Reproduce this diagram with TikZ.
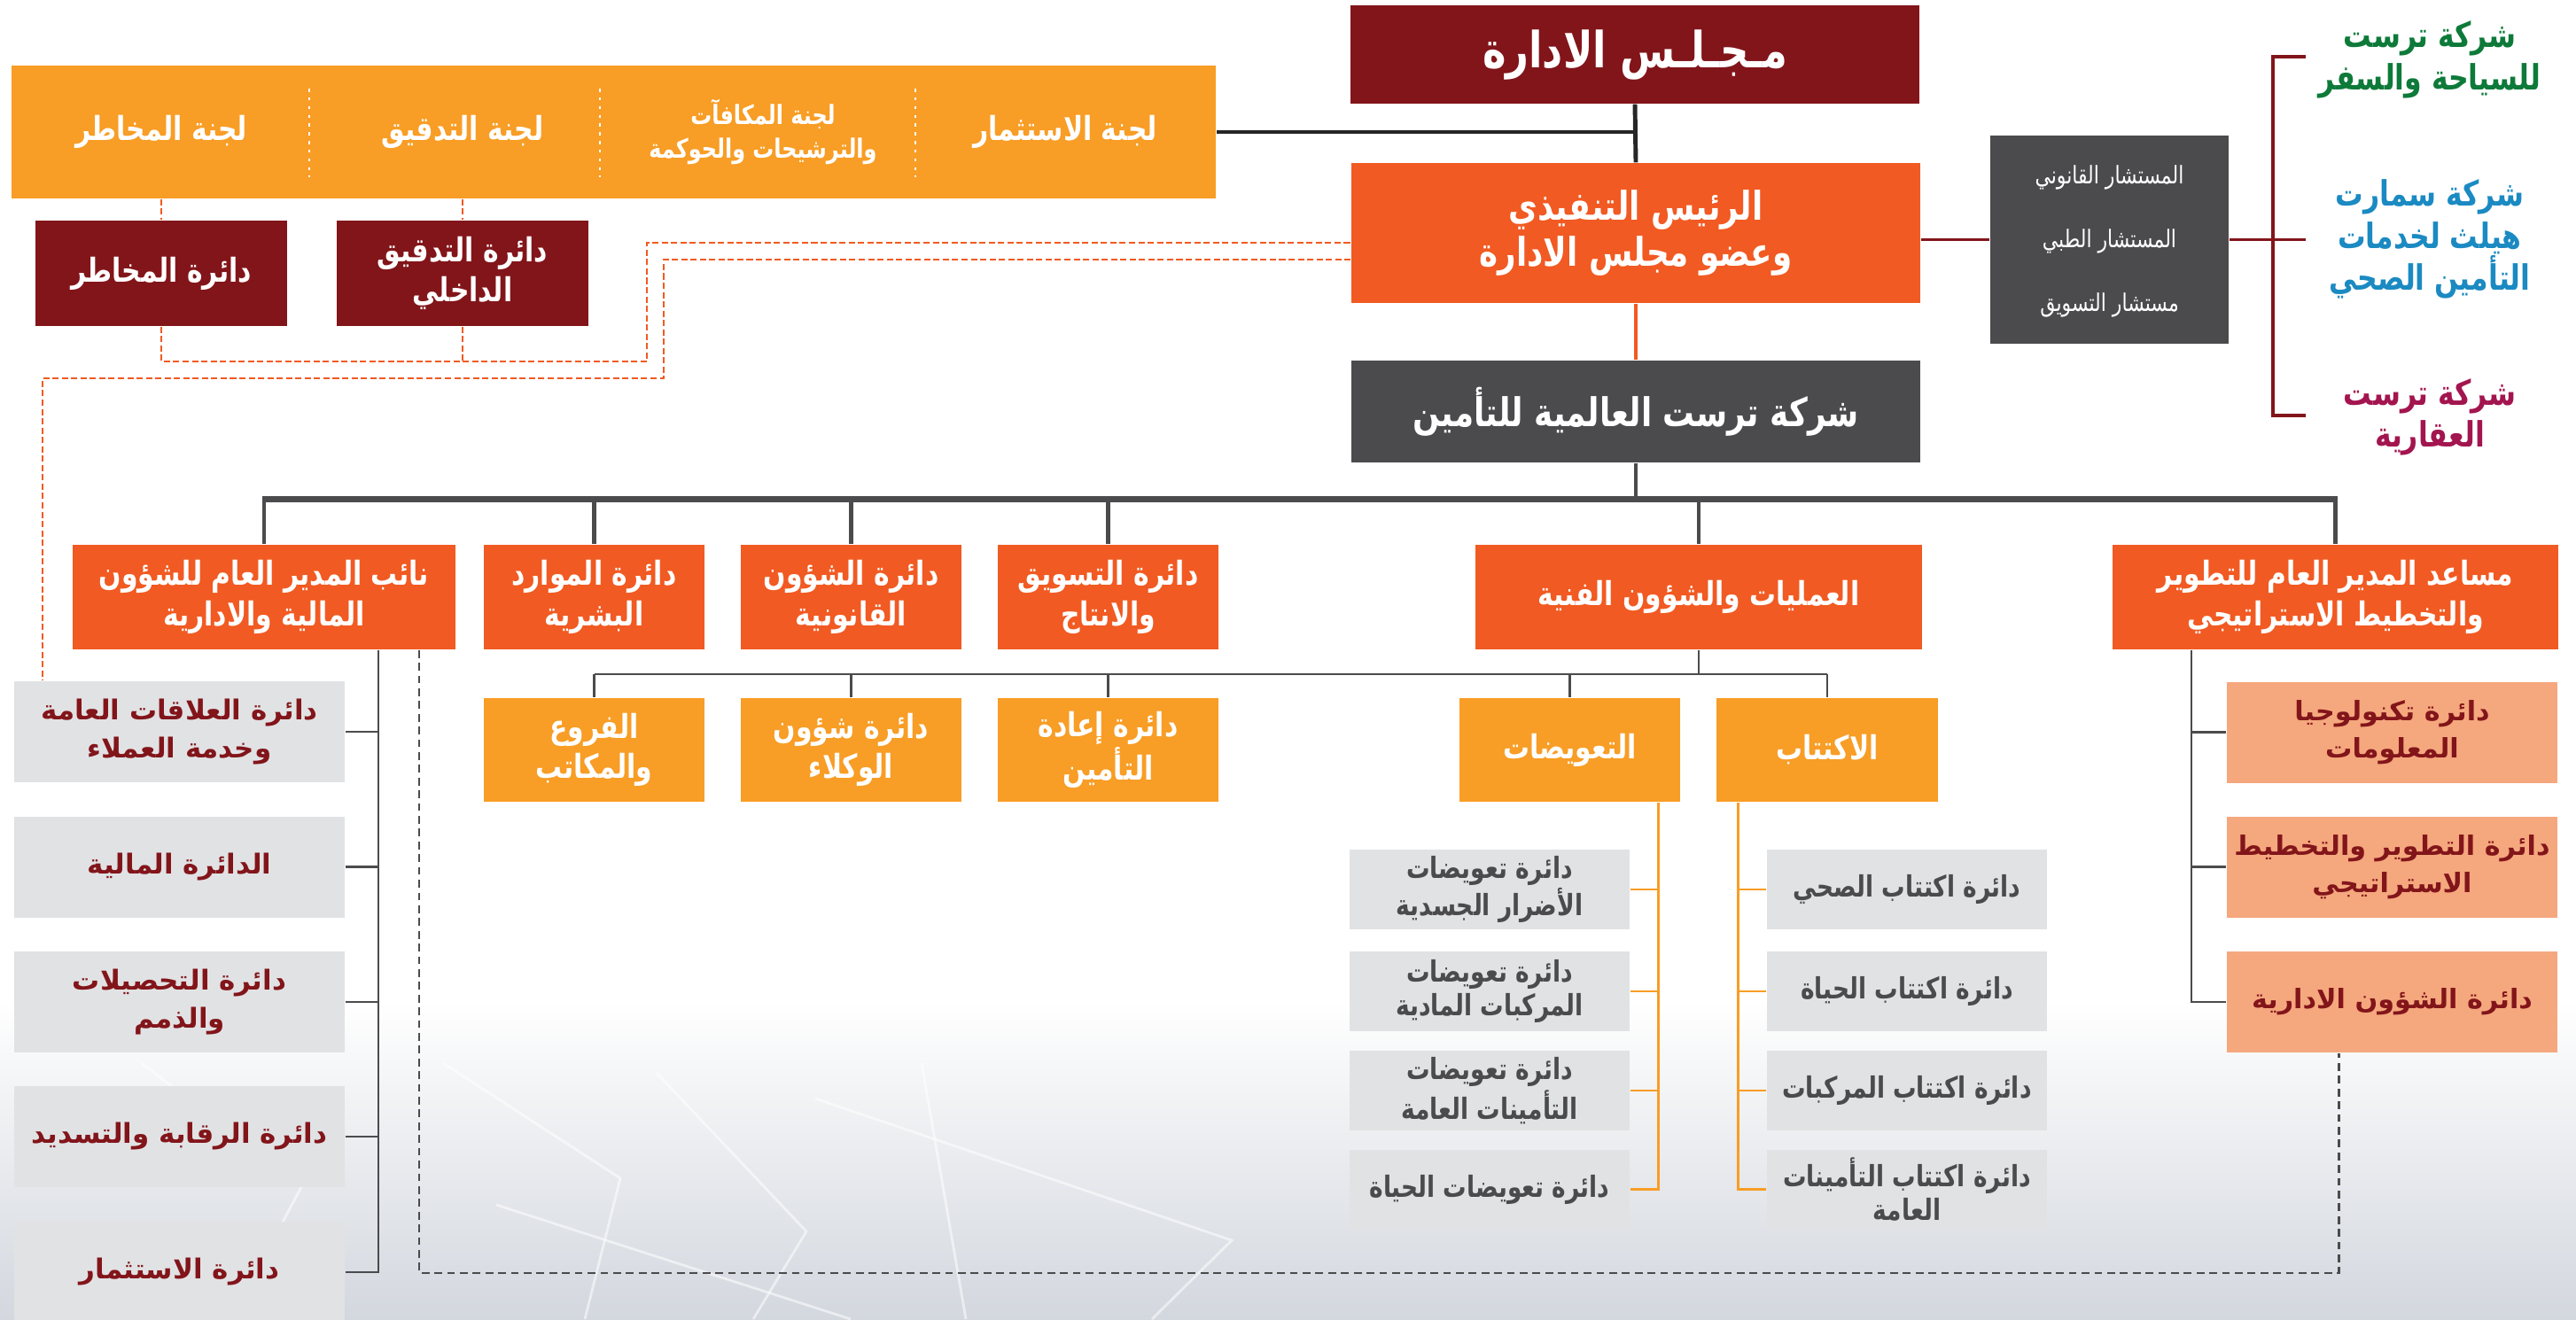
\documentclass[tikz,border=0pt]{standalone}
\usepackage{fontspec}
\usepackage{tikz}
\usetikzlibrary{calc}

\TeXXeTstate=1
\newfontfamily\arabicfont[Script=Arabic,FakeStretch=0.8]{DejaVu Sans}
\newfontfamily\arabicplain[Script=Arabic]{DejaVu Sans}
\newcommand{\ar}[1]{\beginR #1\endR}

\definecolor{boardred}{HTML}{82151A}
\definecolor{ceoorange}{HTML}{F15A22}
\definecolor{lightorange}{HTML}{F89D25}
\definecolor{trustgray}{HTML}{4B4B4D}
\definecolor{subgray}{HTML}{E1E2E4}
\definecolor{salmon}{HTML}{F5A77E}
\definecolor{travelgreen}{HTML}{0E7A3A}
\definecolor{healthblue}{HTML}{1B8AC2}
\definecolor{estatered}{HTML}{A3154F}
\definecolor{bggray}{HTML}{D3D7DE}

\tikzset{
  box/.style={rectangle,inner sep=0pt,align=center,text=white},
  redbox/.style={box,fill=boardred},
  headbox/.style={box,fill=ceoorange,minimum height=1.18cm,font=\arabicfont\bfseries\fontsize{10.6}{13}\selectfont},
  unitbox/.style={box,fill=lightorange,minimum width=2.49cm,minimum height=1.17cm,font=\arabicfont\bfseries\fontsize{10.6}{13}\selectfont},
  finbox/.style={box,fill=subgray,text=boardred,minimum width=3.73cm,minimum height=1.14cm,font=\arabicplain\bfseries\fontsize{8.8}{12}\selectfont},
  planbox/.style={finbox,fill=salmon,font=\arabicplain\bfseries\fontsize{8.6}{12}\selectfont},
  secbox/.style={box,fill=subgray,text=trustgray,minimum width=3.16cm,minimum height=0.90cm,font=\arabicfont\bfseries\fontsize{9.4}{11}\selectfont},
  comtext/.style={text=white,align=center,inner sep=0pt,font=\arabicfont\bfseries\fontsize{10.6}{13}\selectfont},
  advtext/.style={text=white,inner sep=0pt,font=\arabicfont\fontsize{7.8}{9}\selectfont},
  firm/.style={align=center,inner sep=0pt,font=\arabicfont\bfseries\fontsize{11.2}{13.5}\selectfont},
  boardline/.style={draw=black!85,line width=1.4pt},
  busline/.style={draw=trustgray,line width=1.4pt},
  thinline/.style={draw=trustgray,line width=0.8pt},
  orangeline/.style={draw=lightorange,line width=0.8pt},
  redline/.style={draw=boardred,line width=1.1pt},
  orangedash/.style={draw=ceoorange,line width=0.7pt,dash pattern=on 2pt off 1pt},
  greydash/.style={draw=trustgray,line width=0.7pt,dash pattern=on 2.5pt off 1.6pt},
  sepdots/.style={draw=white,line width=0.6pt,dash pattern=on 1pt off 1.8pt},
  decor/.style={draw=white,line width=0.8pt,opacity=0.55}
}

\begin{document}
\begin{tikzpicture}[x=1cm,y=-1cm]
\useasboundingbox (0,0) rectangle (29.07,14.89);
\shade[top color=white,bottom color=bggray] (0,11.3) rectangle (29.07,14.89);
\draw[decor] (5.0,12.0) -- (7.0,13.3) -- (6.6,14.89);
\draw[decor] (7.4,12.1) -- (9.1,13.9) -- (8.5,14.89);
\draw[decor] (9.2,12.4) -- (13.9,14.0) -- (13.0,14.89);
\draw[decor] (5.6,13.6) -- (9.6,14.89);
\draw[decor] (10.4,12.0) -- (10.9,14.89);
\draw[decor] (1.6,12.0) -- (3.4,13.4) -- (2.6,14.89);

% top of the tree
\node[redbox,minimum width=6.42cm,minimum height=1.11cm,font=\arabicfont\bfseries\fontsize{16}{18}\selectfont] (board) at (18.45,0.615) {\ar{مـجـلـس الادارة}};
\node[box,fill=ceoorange,minimum width=6.42cm,minimum height=1.58cm,font=\arabicfont\bfseries\fontsize{12.7}{15}\selectfont] (ceo) at (18.46,2.63) {\ar{الرئيس التنفيذي}\\\ar{وعضو مجلس الادارة}};
\node[box,fill=trustgray,minimum width=6.42cm,minimum height=1.15cm,font=\arabicfont\bfseries\fontsize{12.7}{15}\selectfont] (trust) at (18.46,4.645) {\ar{شركة ترست العالمية للتأمين}};

% committees
\node[box,fill=lightorange,minimum width=13.59cm,minimum height=1.50cm] (committees) at (6.925,1.49) {};
\node[comtext] (crisk) at (1.82,1.49) {\ar{لجنة المخاطر}};
\node[comtext] (caudit) at (5.22,1.49) {\ar{لجنة التدقيق}};
\node[comtext,font=\arabicfont\bfseries\fontsize{8.5}{11}\selectfont] (creward) at (8.61,1.49) {\ar{لجنة المكافآت}\\\ar{والترشيحات والحوكمة}};
\node[comtext] (cinvest) at (12.02,1.49) {\ar{لجنة الاستثمار}};
\foreach \x in {3.49,6.77,10.33}
  \draw[sepdots] (\x,1.00) -- (\x,2.00);

\node[redbox,minimum width=2.84cm,minimum height=1.19cm,font=\arabicfont\bfseries\fontsize{10.6}{13}\selectfont] (riskdept) at (1.82,3.085) {\ar{دائرة المخاطر}};
\node[redbox,minimum width=2.84cm,minimum height=1.19cm,font=\arabicfont\bfseries\fontsize{10.6}{13}\selectfont] (auditdept) at (5.22,3.085) {\ar{دائرة التدقيق}\\\ar{الداخلي}};

% advisors and sister companies
\node[box,fill=trustgray,minimum width=2.69cm,minimum height=2.35cm] (advisors) at (23.805,2.705) {};
\node[advtext] (adv1) at (23.805,2.00) {\ar{المستشار القانوني}};
\node[advtext] (adv2) at (23.805,2.72) {\ar{المستشار الطبي}};
\node[advtext] (adv3) at (23.805,3.44) {\ar{مستشار التسويق}};

\node[firm,text=travelgreen] (travel) at (27.42,0.675) {\ar{شركة ترست}\\\ar{للسياحة والسفر}};
\node[firm,text=healthblue] (health) at (27.42,2.70) {\ar{شركة سمارت}\\\ar{هيلث لخدمات}\\\ar{التأمين الصحي}};
\node[firm,text=estatered] (estate) at (27.42,4.71) {\ar{شركة ترست}\\\ar{العقارية}};

\coordinate (brtop) at (26.02,0.64);
\coordinate (brmid) at (26.02,2.705);
\coordinate (brbot) at (26.02,4.69);
\coordinate (brx) at (25.65,0);

% second level
\node[headbox,minimum width=4.32cm] (vp) at (2.98,6.74) {\ar{نائب المدير العام للشؤون}\\\ar{المالية والادارية}};
\node[headbox,minimum width=2.49cm] (hr) at (6.705,6.74) {\ar{دائرة الموارد}\\\ar{البشرية}};
\node[headbox,minimum width=2.49cm] (legal) at (9.605,6.74) {\ar{دائرة الشؤون}\\\ar{القانونية}};
\node[headbox,minimum width=2.49cm] (mkt) at (12.505,6.74) {\ar{دائرة التسويق}\\\ar{والانتاج}};
\node[headbox,minimum width=5.04cm] (ops) at (19.17,6.74) {\ar{العمليات والشؤون الفنية}};
\node[headbox,minimum width=5.03cm] (strat) at (26.355,6.74) {\ar{مساعد المدير العام للتطوير}\\\ar{والتخطيط الاستراتيجي}};

% third level
\node[unitbox] (branches) at (6.705,8.465) {\ar{الفروع}\\\ar{والمكاتب}};
\node[unitbox] (agents) at (9.605,8.465) {\ar{دائرة شؤون}\\\ar{الوكلاء}};
\node[unitbox] (reins) at (12.505,8.465) {\ar{دائرة إعادة}\\\ar{التأمين}};
\node[unitbox] (claims) at (17.715,8.465) {\ar{التعويضات}};
\node[unitbox,minimum width=2.50cm] (uw) at (20.62,8.465) {\ar{الاكتتاب}};

\node[secbox] (cl1) at (16.81,10.04) {\ar{دائرة تعويضات}\\\ar{الأضرار الجسدية}};
\node[secbox] (cl2) at (16.81,11.19) {\ar{دائرة تعويضات}\\\ar{المركبات المادية}};
\node[secbox] (cl3) at (16.81,12.31) {\ar{دائرة تعويضات}\\\ar{التأمينات العامة}};
\node[secbox] (cl4) at (16.81,13.425) {\ar{دائرة تعويضات الحياة}};
\node[secbox] (uw1) at (21.52,10.04) {\ar{دائرة اكتتاب الصحي}};
\node[secbox] (uw2) at (21.52,11.19) {\ar{دائرة اكتتاب الحياة}};
\node[secbox] (uw3) at (21.52,12.31) {\ar{دائرة اكتتاب المركبات}};
\node[secbox] (uw4) at (21.52,13.425) {\ar{دائرة اكتتاب التأمينات}\\\ar{العامة}};

\node[finbox] (fin1) at (2.025,8.26) {\ar{دائرة العلاقات العامة}\\\ar{وخدمة العملاء}};
\node[finbox] (fin2) at (2.025,9.785) {\ar{الدائرة المالية}};
\node[finbox] (fin3) at (2.025,11.31) {\ar{دائرة التحصيلات}\\\ar{والذمم}};
\node[finbox] (fin4) at (2.025,12.83) {\ar{دائرة الرقابة والتسديد}};
\node[finbox] (fin5) at (2.025,14.36) {\ar{دائرة الاستثمار}};

\node[planbox] (it) at (26.995,8.265) {\ar{دائرة تكنولوجيا}\\\ar{المعلومات}};
\node[planbox] (devplan) at (26.995,9.785) {\ar{دائرة التطوير والتخطيط}\\\ar{الاستراتيجي}};
\node[planbox] (admin) at (26.995,11.31) {\ar{دائرة الشؤون الادارية}};

% solid connectors
\draw[boardline] (board.south) -- (ceo.north);
\draw[boardline,line width=1.1pt] (committees.east) -- (committees.east -| board.south);
\draw[draw=ceoorange,line width=1.4pt] (ceo.south) -- (trust.north);
\draw[redline] (ceo.east |- advisors.west) -- (advisors.west);
\draw[redline] (advisors.east) -- (brx |- brmid) -- (brmid);
\draw[redline] (brtop) -- (brx |- brtop) -- (brx |- brbot) -- (brbot);

\coordinate (busL) at (2.96,5.635);
\coordinate (busR) at (26.38,5.635);
\draw[busline] (trust.south) -- (trust.south |- busL);
\draw[busline,line width=2pt] (busL) -- (busR);
\foreach \n in {vp,hr,legal,mkt,ops,strat}
  \draw[busline] (\n.north |- busL) -- (\n.north);

\coordinate (bus2L) at (6.705,7.61);
\coordinate (bus2R) at (20.62,7.61);
\draw[thinline] (ops.south) -- (ops.south |- bus2L);
\draw[thinline] (bus2L) -- (bus2R);
\foreach \n in {branches,agents,reins,claims,uw}
  \draw[thinline] (\n.north |- bus2L) -- (\n.north);

\coordinate (clx) at ([xshift=-0.25cm]claims.south east);
\coordinate (uwx) at ([xshift=0.25cm]uw.south west);
\draw[orangeline] (clx) |- (cl4.east);
\draw[orangeline] (uwx) |- (uw4.west);
\foreach \n in {1,2,3} {
  \draw[orangeline] (cl\n.east) -- (cl\n.east -| clx);
  \draw[orangeline] (uw\n.west) -- (uw\n.west -| uwx);
}

\coordinate (vptrunk) at ([xshift=1.29cm]vp.south);
\draw[thinline] (vptrunk) |- (fin5.east);
\foreach \n in {1,2,3,4}
  \draw[thinline] (fin\n.east) -- (fin\n.east -| vptrunk);

\coordinate (strtrunk) at ([xshift=-1.625cm]strat.south);
\draw[thinline] (strtrunk) |- (admin.west);
\foreach \n in {it,devplan}
  \draw[thinline] (\n.west) -- (\n.west -| strtrunk);

% dashed links
\coordinate (vpdash) at ([xshift=1.75cm]vp.south);
\coordinate (admdash) at ([xshift=-0.6cm]admin.south);
\coordinate (dashlow) at (0,14.37);
\draw[greydash] (vpdash) -- (vpdash |- dashlow) -- (admdash |- dashlow) -- (admdash);

\draw[orangedash] (committees.south -| riskdept.north) -- (riskdept.north);
\draw[orangedash] (committees.south -| auditdept.north) -- (auditdept.north);
\coordinate (loop1) at (7.30,4.08);
\coordinate (loop2) at (7.49,4.27);
\coordinate (prtop) at ([xshift=-1.545cm]fin1.north);
\draw[orangedash] (riskdept.south) |- (loop1) |- ([yshift=-0.11cm]ceo.west);
\draw[orangedash] (auditdept.south) -- (auditdept.south |- loop1);
\draw[orangedash] ([yshift=-0.30cm]ceo.west) -| (loop2) -| (prtop);
\end{tikzpicture}
\end{document}
